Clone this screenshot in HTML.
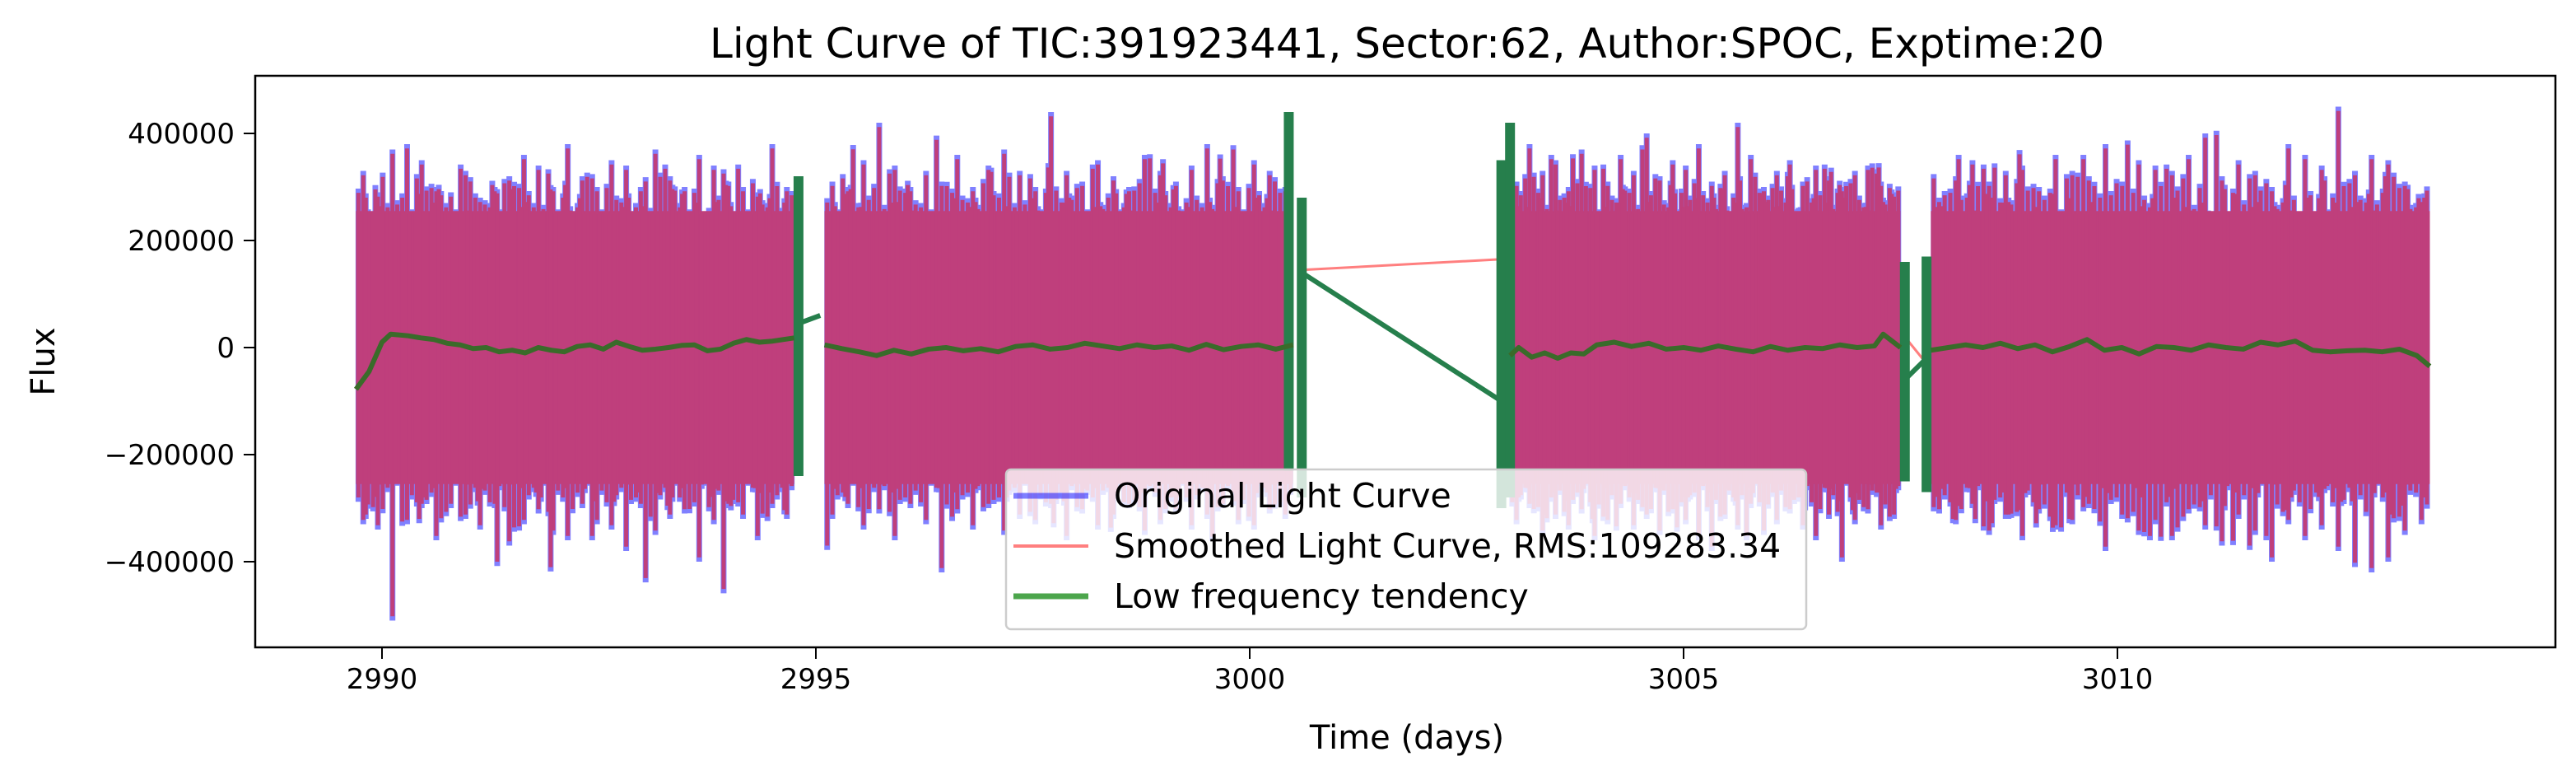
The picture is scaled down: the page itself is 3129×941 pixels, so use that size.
<!DOCTYPE html>
<html><head><meta charset="utf-8"><style>
html,body{margin:0;padding:0;background:#fff}
svg{display:block;font-family:"DejaVu Sans","Liberation Sans",sans-serif}
</style></head><body>
<svg id="chart" width="3129" height="941" viewBox="0 0 3129 941" xmlns="http://www.w3.org/2000/svg">
<text x="1709" y="70" font-size="50" text-anchor="middle">Light Curve of TIC:391923441, Sector:62, Author:SPOC, Exptime:20</text>
<g id="plot"></g>
<rect x="310" y="92" width="2794" height="694" fill="none" stroke="#000" stroke-width="2.5"/>
<g id="xticks"></g>
<g id="yticks"></g>
<text x="1709" y="909" font-size="40" text-anchor="middle">Time (days)</text>
<text transform="translate(66,439) rotate(-90)" font-size="40" text-anchor="middle">Flux</text>
<g>
<rect x="1222" y="570" width="972" height="194" rx="6" fill="#fff" fill-opacity="0.8" stroke="#ccc" stroke-width="2.5"/>
<line x1="1231" y1="602" x2="1322" y2="602" stroke="#0000ff" stroke-opacity="0.5" stroke-width="7"/>
<text x="1353" y="616" font-size="41">Original Light Curve</text>
<line x1="1231" y1="663" x2="1322" y2="663" stroke="#ff0000" stroke-opacity="0.5" stroke-width="4"/>
<text x="1353" y="677" font-size="41">Smoothed Light Curve, RMS:109283.34</text>
<line x1="1231" y1="724" x2="1322" y2="724" stroke="#008000" stroke-opacity="0.7" stroke-width="7"/>
<text x="1353" y="738" font-size="41">Low frequency tendency</text>
</g>
</svg>
<script>
const xTicks=[2990,2995,3000,3005,3010];
const yTicks=[400000,200000,0,-200000,-400000];
const yTickLabels=["400000","200000","0","\u2212200000","\u2212400000"];
const segStart=[2989.7,2995.1,3003.0,3007.85];
const segEnd=[2994.75,3000.5,3007.5,3013.6];
const upper1=[330,290,370,380,350,300,290,330,280,300,320,360,340,300,380,320,300,350,340,300,370,320,300,360,340,310,300,290,380,300];
const lower1=[-330,-340,-510,-330,-300,-360,-300,-320,-340,-300,-370,-330,-310,-350,-360,-300,-330,-340,-380,-300,-350,-320,-310,-400,-330,-300,-320,-360,-300,-320];
const upper2=[310,300,350,420,340,300,330,310,360,300,340,370,330,300,440,330,310,350,320,300,360,330,310,340,380,320,300,350,330,300];
const lower2=[-320,-300,-340,-310,-360,-300,-330,-420,-310,-340,-300,-350,-320,-330,-300,-360,-310,-340,-320,-300,-350,-330,-310,-340,-320,-300,-330,-340,-310,-320];
const upper3=[310,380,330,350,300,370,340,310,360,330,400,320,350,340,380,310,330,420,360,300,330,350,310,340,320,300,330,340,310,290];
const lower3=[-330,-300,-350,-320,-340,-310,-360,-330,-300,-340,-320,-350,-310,-330,-360,-380,-320,-340,-300,-350,-330,-310,-340,-360,-320,-400,-330,-310,-340,-320];
const upper4=[280,320,350,310,330,340,300,360,330,320,380,310,350,340,330,360,400,320,350,330,300,380,360,340,450,330,360,350,310,280];
const lower4=[-310,-330,-300,-350,-320,-360,-310,-340,-330,-300,-380,-320,-350,-330,-360,-310,-340,-370,-320,-350,-400,-330,-360,-340,-380,-410,-420,-400,-350,-330];
const uppers=[upper1,upper2,upper3,upper4];
const lowers=[lower1,lower2,lower3,lower4];
const trendT1=[2989.7,2989.85,2990.0,2990.1,2990.3,2990.45,2990.6,2990.75,2990.9,2991.05,2991.2,2991.35,2991.5,2991.65,2991.8,2991.95,2992.1,2992.25,2992.4,2992.55,2992.7,2992.85,2993.0,2993.15,2993.3,2993.45,2993.6,2993.75,2993.9,2994.05,2994.2,2994.35,2994.5,2994.75];
const trendV1=[-78,-45,10,25,22,18,15,8,5,-2,0,-8,-5,-10,0,-5,-8,2,5,-3,10,2,-5,-3,0,4,5,-6,-3,8,15,10,12,18];
const trendT2=[2995.1,2995.3,2995.5,2995.7,2995.9,2996.1,2996.3,2996.5,2996.7,2996.9,2997.1,2997.3,2997.5,2997.7,2997.9,2998.1,2998.3,2998.5,2998.7,2998.9,2999.1,2999.3,2999.5,2999.7,2999.9,3000.1,3000.3,3000.5];
const trendV2=[5,-2,-8,-15,-5,-12,-3,0,-6,-2,-8,2,5,-3,0,8,3,-2,5,0,3,-5,6,-4,2,5,-3,5];
const trendT3=[3003.0,3003.1,3003.25,3003.4,3003.55,3003.7,3003.85,3004.0,3004.2,3004.4,3004.6,3004.8,3005.0,3005.2,3005.4,3005.6,3005.8,3006.0,3006.2,3006.4,3006.6,3006.8,3007.0,3007.2,3007.3,3007.5];
const trendV3=[-15,0,-18,-10,-20,-10,-12,5,10,2,8,-3,0,-5,3,-3,-8,2,-5,0,-2,5,0,3,25,0];
const trendT4=[3007.85,3008.05,3008.25,3008.45,3008.65,3008.85,3009.05,3009.25,3009.45,3009.65,3009.85,3010.05,3010.25,3010.45,3010.65,3010.85,3011.05,3011.25,3011.45,3011.65,3011.85,3012.05,3012.25,3012.45,3012.65,3012.85,3013.05,3013.25,3013.45,3013.6];
const trendV4=[-5,0,5,0,8,-2,5,-8,2,15,-5,0,-12,2,0,-5,5,0,-3,10,5,12,-5,-8,-6,-5,-8,-3,-15,-35];
const trendT=[trendT1,trendT2,trendT3,trendT4];
const trendV=[trendV1,trendV2,trendV3,trendV4];
const burstT=[2994.8,3000.45,3000.6,3002.9,3003.0,3007.55,3007.8];
const burstLo=[-240,-230,-280,-300,-280,-250,-270];
const burstHi=[320,440,280,350,420,160,170];
const gapRedT=[[3000.6,3002.9],[3007.55,3007.8]];
const gapRedV=[[145,165],[20,-30]];
const gapGreenT=[[2994.8,2995.05],[3000.6,3002.9],[3007.55,3007.8]];
const gapGreenV=[[45,60],[140,-100],[-60,-20]];

const NS="http://www.w3.org/2000/svg";
const X=t=>464+(t-2990)*105.4;
const Y=v=>422-v*1000/200000*130;
function mk(tag,attrs,parent){const e=document.createElementNS(NS,tag);for(const k in attrs)e.setAttribute(k,attrs[k]);parent.appendChild(e);return e;}
const plot=document.getElementById('plot');
const clip=mk('clipPath',{id:'cp'},mk('defs',{},plot));
mk('rect',{x:310,y:92,width:2794,height:694},clip);
const g=mk('g',{'clip-path':'url(#cp)'},plot);
const passes=[[0,1,0.5],[7,0.9,0.17],[13,0.86,0.83],[19,0.82,0.33],[23,0.8,0.67]];
function spikes(color,w,shrink,name){
  for(let s=0;s<4;s++){
    const up=uppers[s],lo=lowers[s],n=up.length,t0=segStart[s],t1=segEnd[s];
    passes.forEach(p=>{
      for(let i=0;i<n;i++){
        const t=t0+(t1-t0)*(i+p[2])/n;
        const u=up[(i+p[0])%n]*p[1]-shrink, d=lo[(i+p[0])%n]*p[1]+shrink;
        const l=mk('line',{x1:X(t),x2:X(t),y1:Y(Math.max(u,250)),y2:Y(Math.min(d,-250)),stroke:color,'stroke-width':w},g);
        
        
      }
    });
  }
}
spikes('#8080ff',7,0,'original-spike');
for(let s=0;s<4;s++){
  const band=mk('rect',{x:X(segStart[s]),y:Y(255),width:X(segEnd[s])-X(segStart[s]),height:Y(-255)-Y(255),fill:'#bf3f7c'},g);
  
  
}
spikes('#bf3f7c',5,8,'smoothed-spike');
for(let i=0;i<gapRedT.length;i++){
  const l=mk('line',{x1:X(gapRedT[i][0]),y1:Y(gapRedV[i][0]),x2:X(gapRedT[i][1]),y2:Y(gapRedV[i][1]),stroke:'#ff0000','stroke-opacity':0.5,'stroke-width':3},g);
  
  
}
for(let i=0;i<gapGreenT.length;i++){
  const l=mk('line',{x1:X(gapGreenT[i][0]),y1:Y(gapGreenV[i][0]),x2:X(gapGreenT[i][1]),y2:Y(gapGreenV[i][1]),stroke:'#267f4c','stroke-width':6},g);
  
  
}
for(let i=0;i<burstT.length;i++){
  const r=mk('rect',{x:X(burstT[i])-6,y:Y(burstHi[i]),width:12,height:Y(burstLo[i])-Y(burstHi[i]),fill:'#267f4c'},g);
  
  
}
for(let s=0;s<4;s++){
  const pts=trendT[s].map((t,i)=>X(t)+','+Y(trendV[s][i])).join(' ');
  const p=mk('polyline',{points:pts,fill:'none',stroke:'#3a6b2a','stroke-width':6,'stroke-linejoin':'round'},g);
  
  
}
const xg=document.getElementById('xticks');
xTicks.forEach(t=>{
  const l=mk('line',{x1:X(t),x2:X(t),y1:786,y2:800,stroke:'#000','stroke-width':2},xg);
  
  
  const tx=mk('text',{x:X(t),y:836,'font-size':34,'text-anchor':'middle'},xg);
  tx.textContent=t;
  
  
});
const yg=document.getElementById('yticks');
yTicks.forEach((v,i)=>{
  const l=mk('line',{x1:296,x2:310,y1:Y(v/1000),y2:Y(v/1000),stroke:'#000','stroke-width':2},yg);
  
  
  const tx=mk('text',{x:285,y:Y(v/1000)+12,'font-size':34,'text-anchor':'end'},yg);
  tx.textContent=yTickLabels[i];
  
  
});
</script>
</body></html>
